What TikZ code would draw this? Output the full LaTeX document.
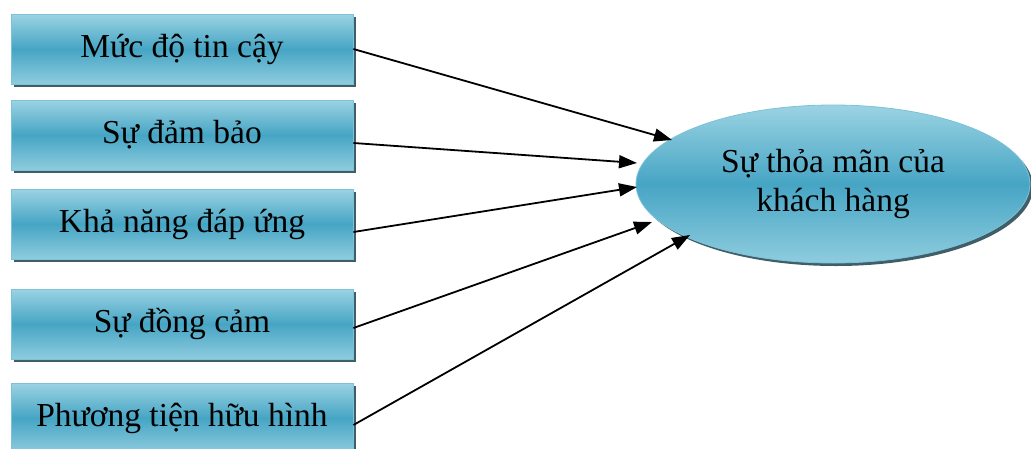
\documentclass[tikz,border=0pt]{standalone}
\usepackage{fontspec}
\setmainfont{Liberation Serif}
\usetikzlibrary{shadows,arrows.meta,shapes.geometric}
\definecolor{boxtop}{HTML}{9BD3E3}
\definecolor{boxmid}{HTML}{46A5C4}
\definecolor{boxedge}{HTML}{7CC2D8}
\definecolor{shad}{HTML}{3F5E68}
\tikzset{
  factor/.style={rectangle, minimum width=342pt, minimum height=70pt, inner sep=0pt,
    top color=boxtop, bottom color=boxtop!85!boxmid, middle color=boxmid, draw=boxedge, line width=0.8pt,
    drop shadow={shadow xshift=3pt, shadow yshift=-3pt, fill=shad, opacity=1},
    font=\fontsize{33.5}{38}\selectfont},
  target/.style={ellipse, minimum width=394pt, minimum height=158pt, inner sep=0pt,
    top color=boxtop, bottom color=boxtop!85!boxmid, middle color=boxmid, draw=boxedge, line width=0.8pt,
    drop shadow={shadow xshift=3pt, shadow yshift=-3pt, fill=shad, opacity=1},
    font=\fontsize{33.5}{39}\selectfont, align=center},
  link/.style={-{Triangle[length=18pt,width=13pt]}, line width=1.8pt}
}
\begin{document}
\begin{tikzpicture}[x=1pt,y=-1pt]
\useasboundingbox (0,0) rectangle (1031,448);
\node[factor] (a) at (182,49) {Mức độ tin cậy};
\node[factor] (b) at (182,135) {Sự đảm bảo};
\node[factor] (c) at (182,224) {Khả năng đáp ứng};
\node[factor] (d) at (182,324) {Sự đồng cảm};
\node[factor] (e) at (182,418) {Phương tiện hữu hình};
\node[target] (t) at (833,184) {Sự thỏa mãn của\\khách hàng};
\coordinate (ta) at (672,140);
\coordinate (tb) at (637,163);
\coordinate (tc) at (637,187);
\coordinate (td) at (652,222);
\coordinate (te) at (690,235);
\draw[link] (a.east) -- (ta);
\draw[link] ([yshift=-8pt]b.east) -- (tb);
\draw[link] ([yshift=-8pt]c.east) -- (tc);
\draw[link] ([yshift=-4pt]d.east) -- (td);
\draw[link] ([yshift=-7pt]e.east) -- (te);
\end{tikzpicture}
\end{document}
